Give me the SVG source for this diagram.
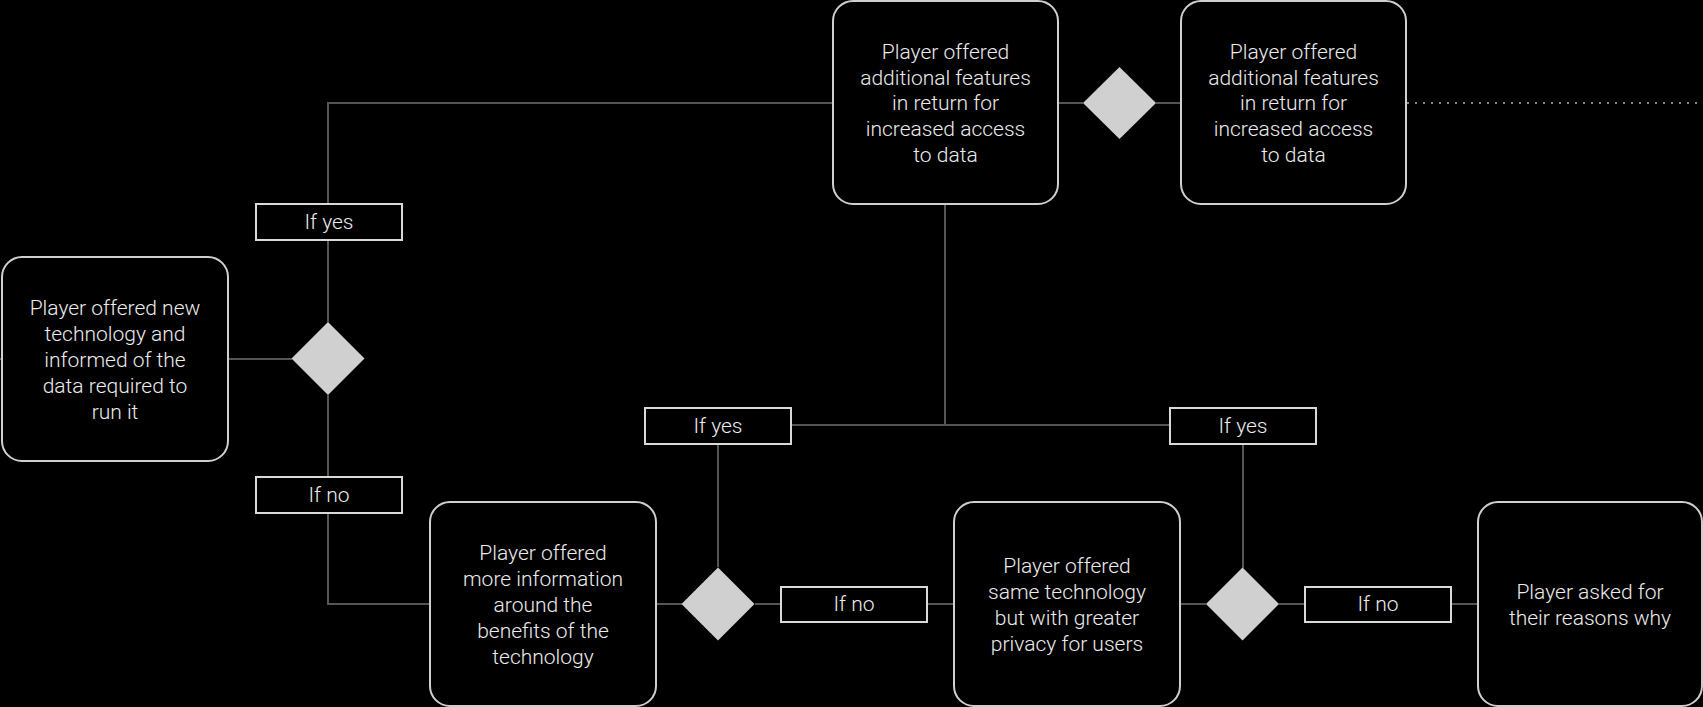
<svg xmlns="http://www.w3.org/2000/svg" width="1703" height="707" viewBox="0 0 1703 707">
<style>
.node{fill:#000;stroke:#cfcfcf;stroke-width:2}
.lbl{fill:#000;stroke:#d9d9d9;stroke-width:2}
.dia{fill:#d0d0d0;stroke:none}
.t{font-family:Roboto,"Liberation Sans",sans-serif;font-weight:300;font-size:21px;fill:#ececec;text-anchor:middle}
.c{fill:none;stroke:#555;stroke-width:2}
.dot{fill:none;stroke:#888;stroke-width:2;stroke-dasharray:2 6}
</style>
<rect width="1703" height="707" fill="#000"/>
<g id="connectors">
<path class="c" d="M0 359H2"/>
<path class="c" d="M228 359H292"/>
<path class="c" d="M328 322V240"/>
<path class="c" d="M328 204V103H833"/>
<path class="c" d="M328 395V477"/>
<path class="c" d="M328 513V604H430"/>
<path class="c" d="M656 604H682"/>
<path class="c" d="M718 567V444"/>
<path class="c" d="M791 425H1170"/>
<path class="c" d="M945 204V425"/>
<path class="c" d="M755 604H781"/>
<path class="c" d="M927 604H954"/>
<path class="c" d="M1180 604H1206"/>
<path class="c" d="M1243 568V444"/>
<path class="c" d="M1279 604H1305"/>
<path class="c" d="M1451 604H1478"/>
<path class="c" d="M1058 103H1083"/>
<path class="c" d="M1156 103H1181"/>
<path class="dot" d="M1407 103H1703"/>
</g>
<g id="n-start">
<rect class="node" x="2" y="257" width="226" height="204" rx="20"/>
<text class="t" x="115" y="315">Player offered new<tspan x="115" dy="26">technology and</tspan><tspan x="115" dy="26">informed of the</tspan><tspan x="115" dy="26">data required to</tspan><tspan x="115" dy="26">run it</tspan></text>
</g>
<g id="d1"><path class="dia" d="M328 322L364.5 358.5L328 395L291.5 358.5Z"/></g>
<g id="l-yes1"><rect class="lbl" x="256" y="204" width="146" height="36"/><text class="t" x="329" y="229">If yes</text></g>
<g id="l-no1"><rect class="lbl" x="256" y="477" width="146" height="36"/><text class="t" x="329" y="502">If no</text></g>
<g id="n-features1">
<rect class="node" x="833" y="1" width="225" height="203" rx="20"/>
<text class="t" x="945.5" y="59">Player offered<tspan x="945.5" dy="25.7">additional features</tspan><tspan x="945.5" dy="25.7">in return for</tspan><tspan x="945.5" dy="25.7">increased access</tspan><tspan x="945.5" dy="25.7">to data</tspan></text>
</g>
<g id="dT"><path class="dia" d="M1119.5 67L1156 103L1119.5 139L1083 103Z"/></g>
<g id="n-features2">
<rect class="node" x="1181" y="1" width="225" height="203" rx="20"/>
<text class="t" x="1293.5" y="59">Player offered<tspan x="1293.5" dy="25.7">additional features</tspan><tspan x="1293.5" dy="25.7">in return for</tspan><tspan x="1293.5" dy="25.7">increased access</tspan><tspan x="1293.5" dy="25.7">to data</tspan></text>
</g>
<g id="n-info">
<rect class="node" x="430" y="502" width="226" height="204" rx="20"/>
<text class="t" x="543" y="560">Player offered<tspan x="543" dy="26">more information</tspan><tspan x="543" dy="26">around the</tspan><tspan x="543" dy="26">benefits of the</tspan><tspan x="543" dy="26">technology</tspan></text>
</g>
<g id="d2"><path class="dia" d="M718 567.5L754.5 604L718 640.5L681.5 604Z"/></g>
<g id="l-yes2"><rect class="lbl" x="645" y="408" width="146" height="36"/><text class="t" x="718" y="433">If yes</text></g>
<g id="l-no2"><rect class="lbl" x="781" y="587" width="146" height="35"/><text class="t" x="854" y="611">If no</text></g>
<g id="n-privacy">
<rect class="node" x="954" y="502" width="226" height="204" rx="20"/>
<text class="t" x="1067" y="573">Player offered<tspan x="1067" dy="26">same technology</tspan><tspan x="1067" dy="26">but with greater</tspan><tspan x="1067" dy="26">privacy for users</tspan></text>
</g>
<g id="d3"><path class="dia" d="M1242.5 567.5L1279 604L1242.5 640.5L1206 604Z"/></g>
<g id="l-yes3"><rect class="lbl" x="1170" y="408" width="146" height="36"/><text class="t" x="1243" y="433">If yes</text></g>
<g id="l-no3"><rect class="lbl" x="1305" y="587" width="146" height="35"/><text class="t" x="1378" y="611">If no</text></g>
<g id="n-reasons">
<rect class="node" x="1478" y="502" width="224" height="204" rx="20"/>
<text class="t" x="1590" y="599">Player asked for<tspan x="1590" dy="26">their reasons why</tspan></text>
</g>
</svg>
